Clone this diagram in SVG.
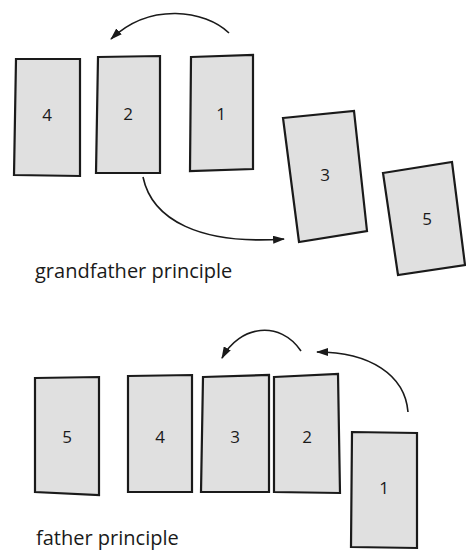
<svg xmlns="http://www.w3.org/2000/svg" width="466" height="550" viewBox="0 0 466 550">
<style>
.card{fill:#e0e0e0;stroke:#1a1a1a;stroke-width:2.2;stroke-linejoin:miter}
.num{font-family:"Open Sans","Liberation Sans",sans-serif;font-size:17px;fill:#1a1a1a;text-anchor:middle}
.cap{font-family:"Open Sans","Liberation Sans",sans-serif;font-size:20px;fill:#1a1a1a}
.arc{fill:none;stroke:#1a1a1a;stroke-width:1.6}
</style>
<defs>
<marker id="ah" viewBox="0 0 12 8" refX="11" refY="4" markerWidth="12" markerHeight="8" markerUnits="userSpaceOnUse" orient="auto">
<path d="M0,0 L12,4 L0,8 Z" fill="#1a1a1a"/>
</marker>
</defs>
<rect width="466" height="550" fill="#ffffff"/>
<g id="top-card-4"><polygon class="card" points="16,59 80,59 80,176 14,175"/><text class="num" x="47" y="121">4</text></g>
<g id="top-card-2"><polygon class="card" points="98,57 160,56 160,173 96,173"/><text class="num" x="128" y="120">2</text></g>
<g id="top-card-1"><polygon class="card" points="191,57 253,55 253,169 190,171"/><text class="num" x="221" y="120">1</text></g>
<g id="top-card-3"><polygon class="card" points="283,118 354,111 367,231 299,242"/><text class="num" x="325" y="181">3</text></g>
<g id="top-card-5"><polygon class="card" points="383,173 452,162 465,265 398,275"/><text class="num" x="427" y="225">5</text></g>
<g id="bot-card-5"><polygon class="card" points="35,378 99,377 99,495 35,492"/><text class="num" x="67" y="443">5</text></g>
<g id="bot-card-4"><polygon class="card" points="128,376 192,375 192,492 128,492"/><text class="num" x="160" y="443">4</text></g>
<g id="bot-card-3"><polygon class="card" points="203,377 269,375 269,492 201,492"/><text class="num" x="235" y="443">3</text></g>
<g id="bot-card-2"><polygon class="card" points="274,377 338,374 340,493 274,492"/><text class="num" x="307" y="443">2</text></g>
<g id="bot-card-1"><polygon class="card" points="352,432 417,433 417,548 351,547"/><text class="num" x="384" y="494">1</text></g>
<g id="connectors">
<path class="arc" d="M229,33 C205,10 150,2 111,39" marker-end="url(#ah)"/>
<path class="arc" d="M143,177 C152,220 200,245 284,239" marker-end="url(#ah)"/>
<path class="arc" d="M301,351 C280,320 240,325 222,358" marker-end="url(#ah)"/>
<path class="arc" d="M408,412 C405,375 370,352 317,352" marker-end="url(#ah)"/>
</g>
<text class="cap" x="35" y="278">grandfather principle</text>
<text class="cap" x="36" y="545">father principle</text>
</svg>
